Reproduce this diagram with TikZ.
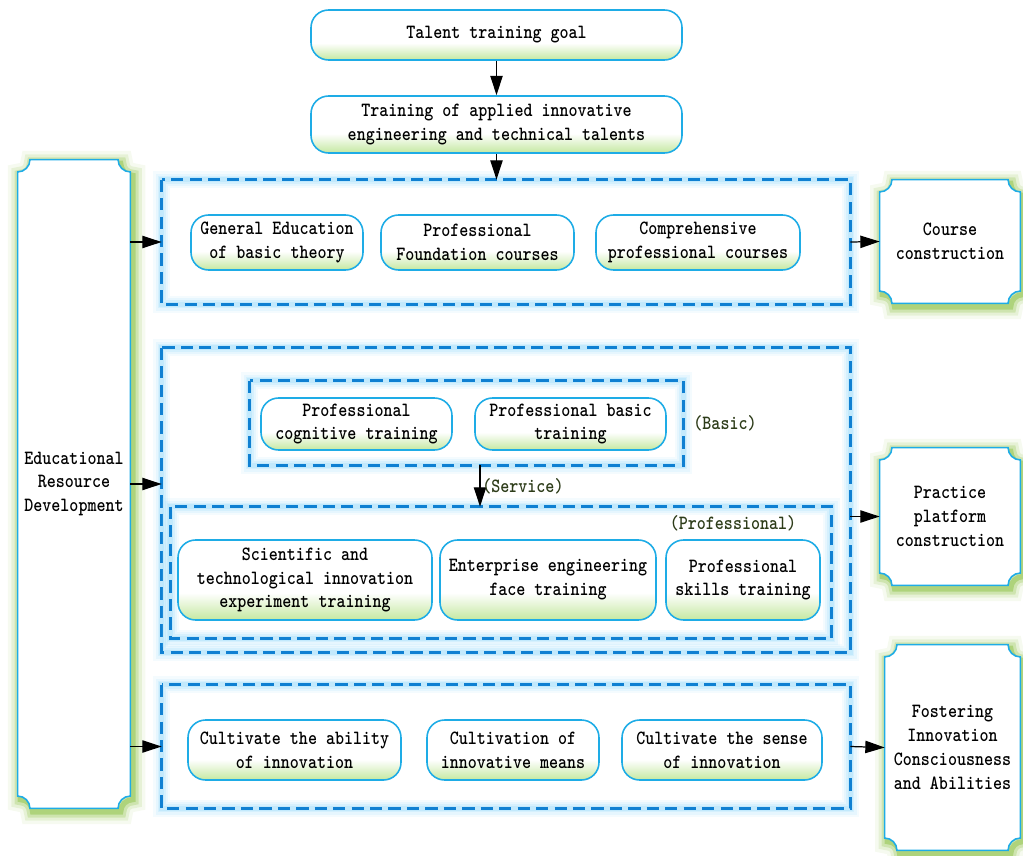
\documentclass[tikz,border=0pt]{standalone}
\usepackage{fontspec}
\setmainfont{lmmonolt10-bold.otf}[FakeStretch=0.85]
\usetikzlibrary{arrows.meta,positioning,backgrounds}

\definecolor{nodeline}{RGB}{30,172,230}
\definecolor{dashblue}{RGB}{15,128,210}
\definecolor{glowblue}{RGB}{150,218,250}
\definecolor{leafgreen}{RGB}{135,190,60}
\definecolor{footgreen}{RGB}{196,232,160}
\definecolor{labelgreen}{RGB}{45,60,25}

\pgfdeclareverticalshading{greenfoot}{100bp}{color(0bp)=(footgreen); color(25bp)=(footgreen); color(42bp)=(white); color(100bp)=(white)}

% outline with inward round corners
\newcommand\notchpath[1]{([yshift=-7pt]#1.north west) arc[start angle=270,end angle=360,radius=7pt] -- ([xshift=-7pt]#1.north east) arc[start angle=180,end angle=270,radius=7pt] -- ([yshift=7pt]#1.south east) arc[start angle=90,end angle=180,radius=7pt] -- ([xshift=7pt]#1.south west) arc[start angle=0,end angle=90,radius=7pt] -- cycle}

\tikzset{
  wh/.style 2 args={minimum width=#1*0.02cm, minimum height=#2*0.02cm},
  pill/.style={draw=nodeline, line width=0.9pt, rounded corners=10pt, shade, shading=greenfoot, align=center, inner sep=0pt},
  dashframe/.style={inner sep=0pt},
  side/.style={align=center, inner sep=0pt},
  tag/.style={text=labelgreen, inner sep=1pt},
  link/.style={-{Triangle[length=11pt,width=7pt]}, line width=0.7pt},
}

\begin{document}
\begin{tikzpicture}[x=0.02cm, y=-0.02cm, font=\fontsize{11.5pt}{13.6pt}\selectfont]
  \useasboundingbox (0,0) rectangle (1023,855);

  % dashed frames
  \node[dashframe, wh={688}{124}] (coursebox) at (506,242) {};
  \node[dashframe, wh={688}{304}] (practicebox) at (506,500) {};
  \node[dashframe, wh={433}{84}] (basicbox) at (466.5,423) {};
  \node[dashframe, wh={660}{131}] (profbox) at (501,572.5) {};
  \node[dashframe, wh={688}{123}] (abilitybox) at (506,746.5) {};
  \foreach \f in {coursebox,practicebox,basicbox,profbox,abilitybox} {
    \foreach \w/\o in {10pt/0.1,7pt/0.15,4.5pt/0.22,2.5pt/0.3}
      \draw[glowblue, line width=\w, opacity=\o] (\f.north west) rectangle (\f.south east);
    \draw[dashblue, line width=1.8pt, dash pattern=on 7pt off 3.5pt] (\f.north west) rectangle (\f.south east);
  }

  % main column
  \node[pill, wh={371}{50}] (goal) at (496.5,35) {Talent training goal};
  \node[pill, wh={371}{57}] (talents) at (496.5,124.5) {Training of applied innovative\\engineering and technical talents};

  \node[pill, wh={172}{55}] (general) at (277,242.5) {General Education\\of basic theory};
  \node[pill, wh={193}{55}] (foundation) at (477.5,242.5) {Professional\\Foundation courses};
  \node[pill, wh={204}{55}] (comprehensive) at (698,242.5) {Comprehensive\\professional courses};

  \node[pill, wh={191}{52}] (cognitive) at (356.5,424) {Professional\\cognitive training};
  \node[pill, wh={191}{52}] (basictrain) at (570.5,424) {Professional basic\\training};
  \node[tag] (basictag) at (725,423) {(Basic)};

  \node[tag] (proftag) at (733,523) {(Professional)};
  \node[pill, wh={254}{80}] (scientific) at (305,580) {Scientific and\\technological innovation\\experiment training};
  \node[pill, wh={216}{80}] (enterprise) at (548,580) {Enterprise engineering\\face training};
  \node[pill, wh={154}{80}] (skills) at (743,580) {Professional\\skills training};

  \node[pill, wh={213}{60}] (ability) at (294.5,750) {Cultivate the ability\\of innovation};
  \node[pill, wh={172}{60}] (means) at (513,750) {Cultivation of\\innovative means};
  \node[pill, wh={200}{60}] (sense) at (722,750) {Cultivate the sense\\of innovation};

  % side boxes
  \node[side, wh={112}{648}] (edu) at (74,484) {Educational\\Resource\\Development};
  \node[side, wh={140}{123}] (course) at (950,241.5) {Course\\construction};
  \node[side, wh={140}{137}] (practice) at (950,516.5) {Practice\\platform\\construction};
  \node[side, wh={135}{205}] (foster) at (952.5,747.5) {Fostering\\Innovation\\Consciousness\\and Abilities};
  \begin{scope}[on background layer]
    \foreach \s in {edu,course,practice,foster} {
      \foreach \w/\o in {14pt/0.08,10pt/0.14,6.5pt/0.25,3pt/0.45}
        \draw[leafgreen, line width=\w, opacity=\o, transform canvas={xshift=1.5pt,yshift=-2pt}] \notchpath{\s};
      \filldraw[fill=white, draw=nodeline, line width=0.9pt] \notchpath{\s};
    }
  \end{scope}

  % connectors
  \draw[link] (goal) -- (talents);
  \draw[link] (talents) -- (talents |- coursebox.north);
  \draw[link] ([xshift=0.27cm]basicbox.south) -- ([xshift=0.27cm]basicbox.south |- profbox.north)
    node[tag, midway, right] {(Service)};
  \draw[link] (edu.east |- coursebox.west) -- (coursebox.west);
  \draw[link] (edu.east) -- (edu.east -| practicebox.west);
  \draw[link] (edu.east |- abilitybox.west) -- (abilitybox.west);
  \draw[link] (coursebox.east) -- (course.west);
  \draw[link] (practicebox.east |- practice.west) -- (practice.west);
  \draw[link] (abilitybox.east) -- (foster.west);
\end{tikzpicture}
\end{document}
